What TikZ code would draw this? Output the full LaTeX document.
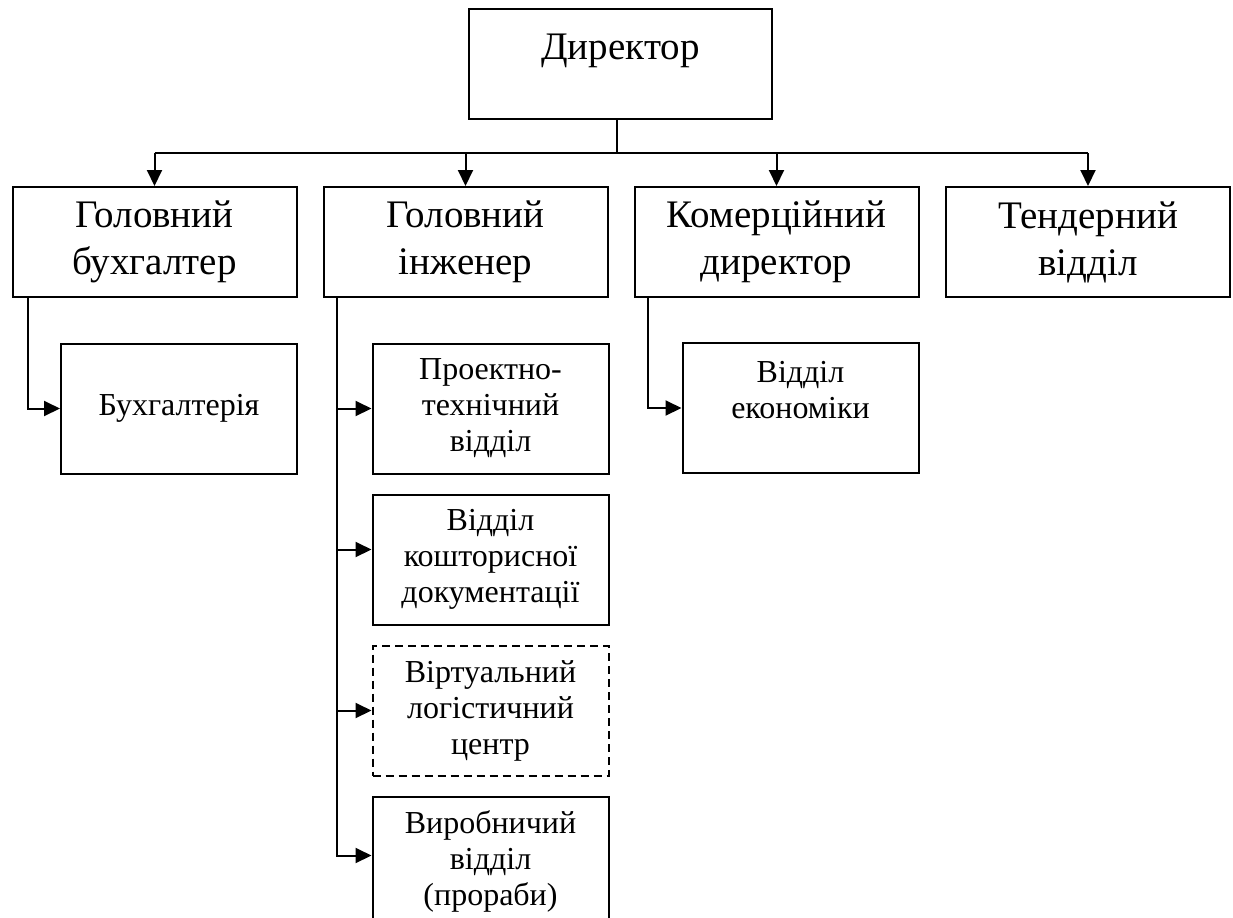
\documentclass[tikz,border=0pt]{standalone}
\usepackage{fontspec}
\setmainfont{Liberation Serif}
\usetikzlibrary{arrows.meta,positioning}

\begin{document}
\begin{tikzpicture}[x=0.5pt,y=-0.5pt,>={Triangle[length=8pt,width=7.5pt]},node distance=9.5pt]
    \tikzset{head/.style={draw,line width=1pt,minimum width=142pt,minimum height=55pt,align=center,font=\fontsize{19.5}{23.5}\selectfont},
      unit/.style={draw,line width=1pt,minimum width=118pt,minimum height=65pt,align=center,font=\fontsize{16}{18}\selectfont},
      link/.style={->,line width=1pt}}
    \useasboundingbox (0,0) rectangle (1233,917);
    \clip (0,0) rectangle (1233,917);
    \node[head,minimum width=151.5pt] (dir) at (620.5,64) {Директор\\[-10pt]\phantom{Д}};
    \node[head] (gbuh) at (154.5,242) {Головний\\бухгалтер};
    \node[head] (geng) at (465.5,242) {Головний\\інженер};
    \node[head] (gcom) at (776.5,242) {Комерційний\\директор};
    \node[head] (tend) at (1088,242) {Тендерний\\відділ};
    \node[unit] (buh) at (179,408.5) {Бухгалтерія};
    \node[unit] (proj) at (490.5,408.5) {Проектно-\\технічний\\відділ};
    \node[unit,below=of proj] (kosht) {Відділ\\кошторисної\\документації};
    \node[unit,dashed,dash pattern=on 4pt off 2.5pt,below=of kosht] (virt) {Віртуальний\\логістичний\\центр};
    \node[unit,below=of virt] (vyrob) {Виробничий\\відділ\\(прораби)};
    \node[unit] (econ) at (800.5,408) {Відділ\\економіки\\\phantom{x}};
    % director to the four heads
    \coordinate (bus) at (617,153);
    \draw[line width=1pt] (bus |- dir.south) -- (bus);
    \draw[line width=1pt] (gbuh.north |- bus) -- (tend.north |- bus);
    \foreach \n in {gbuh,geng,gcom,tend}
      \draw[link] (\n.north |- bus) -- (\n.north);
    % heads to departments
    \draw[link] ([xshift=8.25pt]gbuh.south west) |- (buh.west);
    \draw[link] ([xshift=7pt]geng.south west) |- (proj.west);
    \draw[link] ([xshift=7pt]geng.south west) |- ([yshift=5pt]kosht.west);
    \draw[link] ([xshift=7pt]geng.south west) |- (virt.west);
    \draw[link] ([xshift=7pt]geng.south west) |- ([yshift=3pt]vyrob.west);
    \draw[link] ([xshift=7pt]gcom.south west) |- (econ.west);
\end{tikzpicture}
\end{document}
